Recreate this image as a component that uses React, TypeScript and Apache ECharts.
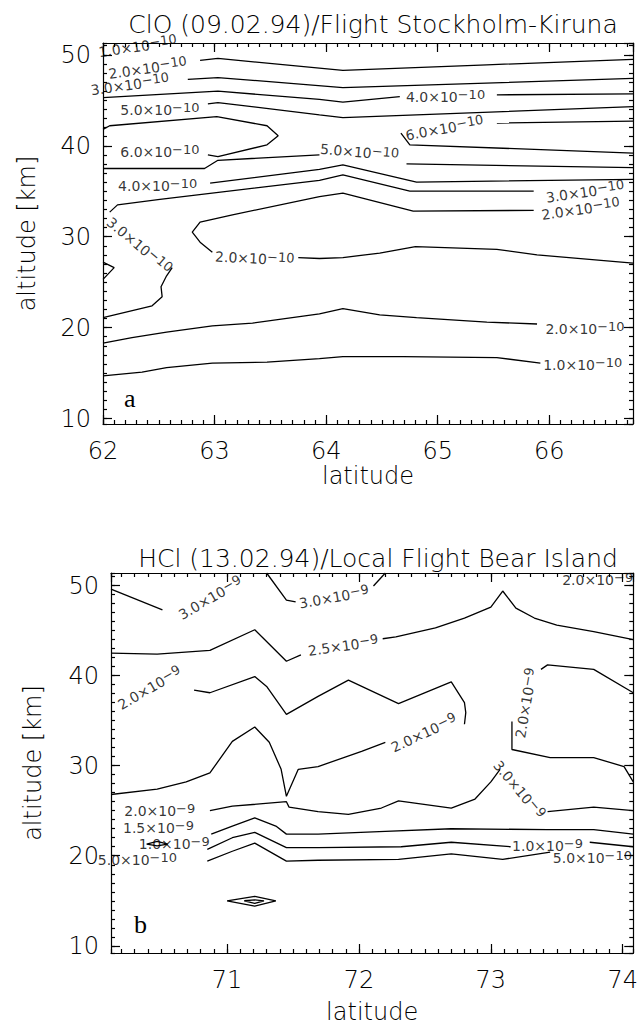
import React, { useEffect, useRef } from 'react';
import * as echarts from 'echarts';

type Pt = [number, number] | null;
type Lab = { lat: number; alt: number; mant: string; exp: string; rot: number };

// ---------- axis ranges ----------
const cloLatRange = [62, 66.75];
const cloAltRange = [9.4, 51.3];
const hclLatRange = [70.12, 74.08];
const hclAltRange = [9.2, 51.4];

const cloTitle = 'ClO (09.02.94)/Flight Stockholm-Kiruna';
const hclTitle = 'HCl (13.02.94)/Local Flight Bear Island';

// ---------- ClO contours (lat, alt) ----------
const clo2Upper: Pt[] = [[62.87, 49.4], [63.03, 49.6], [64.15, 48.3], [65.44, 48.9], [66.75, 49.5]];
const clo3Upper: Pt[] = [[62.76, 47.3], [63.03, 47.5], [64.15, 46.4], [66.75, 47.4]];
const clo4Upper: Pt[] = [[62.0, 45.3], [63.03, 46.0], [63.94, 45.1], [64.15, 44.8], [64.66, 45.4], null, [65.53, 45.6], [66.75, 45.7]];
const clo5Upper: Pt[] = [[62.94, 44.6], [63.03, 44.75], [63.94, 43.4], [64.15, 43.1], [66.75, 44.3]];
const clo6Left: Pt[] = [[62.0, 41.8], [62.06, 42.2], [63.02, 43.2], [63.47, 42.2], [63.57, 41.1], [63.47, 40.1], [63.03, 38.8], [62.94, 39.0]];
const clo6Right: Pt[] = [[66.75, 42.7], [65.53, 42.5], null, [64.67, 41.4], [64.75, 40.1], [66.75, 39.2]];
const clo5Lower: Pt[] = [[62.0, 37.5], [62.91, 37.5], [63.03, 38.4], [63.94, 39.0], null, [64.72, 38.0], [66.75, 37.6]];
const clo4Lower: Pt[] = [[62.96, 35.9], [63.94, 37.4], [64.15, 37.9], [64.81, 36.0], [66.75, 36.3]];
const clo3Lower: Pt[] = [[65.86, 35.0], [64.75, 35.0], [64.15, 36.8], [63.94, 36.2], [62.51, 34.1], [62.13, 33.5], [62.06, 32.7], null,
  [62.62, 26.6], [62.57, 25.7], [62.52, 24.5], [62.53, 23.4], [62.44, 22.4], [62.0, 21.1]];
const clo2Mid: Pt[] = [[65.86, 32.9], [64.78, 32.8], [64.15, 34.8], [63.94, 34.4], [63.16, 32.4], [62.87, 31.6], [62.8, 30.5], [62.87, 29.4], [62.98, 28.3], null,
  [63.75, 27.7], [63.94, 27.6], [64.15, 27.7], [64.48, 28.2], [64.8, 28.9], [65.53, 28.6], [65.89, 28.0], [66.75, 27.1]];
const clo2Lower: Pt[] = [[62.0, 18.3], [62.26, 18.9], [62.57, 19.5], [62.98, 20.2], [63.34, 20.5], [63.94, 21.5], [64.15, 22.1], [64.48, 21.4], [64.81, 21.1], [65.44, 20.6], [65.89, 20.4]];
const clo1Lower: Pt[] = [[62.0, 14.7], [62.35, 15.1], [62.57, 15.6], [62.98, 16.1], [63.47, 16.2], [63.94, 16.6], [64.15, 16.8], [64.69, 16.8], [65.53, 16.7], [65.92, 16.1]];
const cloTriangle: Pt[] = [[62.0, 27.2], [62.1, 26.6], [62.0, 25.3]];

const cloLabels: Lab[] = [
  { lat: 62.31, alt: 51.0, mant: '1.0', exp: '−10', rot: 8 },
  { lat: 62.4, alt: 48.6, mant: '2.0', exp: '−10', rot: 8 },
  { lat: 62.24, alt: 46.8, mant: '3.0', exp: '−10', rot: 8 },
  { lat: 65.07, alt: 45.5, mant: '4.0', exp: '−10', rot: 0 },
  { lat: 62.51, alt: 44.0, mant: '5.0', exp: '−10', rot: 0 },
  { lat: 62.51, alt: 39.4, mant: '6.0', exp: '−10', rot: 0 },
  { lat: 65.06, alt: 42.0, mant: '6.0', exp: '−10', rot: 10 },
  { lat: 64.3, alt: 39.4, mant: '5.0', exp: '−10', rot: -5 },
  { lat: 62.49, alt: 35.7, mant: '4.0', exp: '−10', rot: 0 },
  { lat: 66.32, alt: 35.0, mant: '3.0', exp: '−10', rot: 8 },
  { lat: 66.28, alt: 33.1, mant: '2.0', exp: '−10', rot: 8 },
  { lat: 62.33, alt: 29.1, mant: '3.0', exp: '−10', rot: -40 },
  { lat: 63.36, alt: 27.7, mant: '2.0', exp: '−10', rot: -3 },
  { lat: 66.32, alt: 20.0, mant: '2.0', exp: '−10', rot: 0 },
  { lat: 66.3, alt: 16.0, mant: '1.0', exp: '−10', rot: 0 },
];

// ---------- HCl contours (lat, alt) ----------
const hcl3A: Pt[] = [[70.12, 49.6], [70.51, 47.3]];
const hcl3B: Pt[] = [[71.3, 51.4], [71.45, 48.4], [71.52, 48.2], null, [72.11, 49.95], [72.2, 51.4]];
const hcl25: Pt[] = [[70.12, 42.5], [70.47, 42.4], [70.87, 42.8], [71.21, 45.1], [71.45, 41.6], [71.56, 42.3], null,
  [72.18, 44.1], [72.28, 44.3], [72.58, 45.3], [72.8, 46.4], [73.0, 47.6], [73.09, 49.4], [73.19, 47.5], [73.33, 46.4], [73.5, 45.6], [73.78, 44.9], [74.08, 44.0]];
const hcl2Loop: Pt[] = [[70.75, 38.4], [70.87, 38.1], [71.21, 39.9], [71.3, 38.8], [71.45, 35.7], [71.69, 37.7], [71.92, 39.5], [72.3, 36.9], [72.7, 39.3], [72.8, 37.0], [72.81, 35.9], [72.8, 34.6], null,
  [72.2, 32.6], [72.02, 31.6], [71.69, 29.9], [71.54, 29.6], [71.45, 26.6], [71.41, 29.6], [71.32, 32.6], [71.21, 34.3], [71.04, 32.7], [70.87, 29.2], [70.69, 28.2], [70.47, 27.4], [70.12, 26.8]];
const hcl2Right: Pt[] = [[74.08, 38.1], [73.78, 40.7], [73.43, 41.2], [73.38, 40.7], null,
  [73.16, 34.9], [73.16, 31.8], [73.45, 30.9], [73.78, 30.9], [74.01, 29.9], [74.08, 28.2]];
const hcl3Mid: Pt[] = [[70.87, 25.0], [71.04, 25.5], [71.45, 26.0], [71.47, 25.4], [71.69, 24.9], [71.92, 24.6], [72.17, 25.3], [72.3, 26.1], [72.7, 25.3], [72.88, 26.3], [73.0, 28.2], [73.07, 29.6], null,
  [73.43, 24.9], [73.78, 25.4], [74.08, 25.0]];
const hcl15: Pt[] = [[70.88, 22.4], [71.04, 23.3], [71.21, 24.2], [71.37, 23.3], [71.45, 22.4], [71.69, 22.4], [72.2, 22.7], [72.7, 23.0], [73.43, 22.9], [73.78, 22.9], [74.08, 22.4]];
const hcl10: Pt[] = [[70.85, 20.7], [71.04, 22.0], [71.21, 22.6], [71.45, 20.9], [71.69, 20.9], [72.32, 21.0], [72.7, 21.5], [73.15, 21.0], null, [73.75, 21.5], [74.08, 21.0]];
const hcl05: Pt[] = [[70.85, 19.4], [71.04, 20.5], [71.21, 21.4], [71.45, 19.4], [71.69, 19.5], [72.3, 19.6], [72.7, 20.2], [73.09, 19.6], [73.45, 20.4]];
const hclSmallDiamond: Pt[] = [[70.39, 21.3], [70.47, 21.6], [70.55, 21.3], [70.47, 21.1], [70.39, 21.3]];
const hclDiamondOuter: Pt[] = [[71.0, 15.0], [71.21, 15.5], [71.37, 15.0], [71.21, 14.4], [71.0, 15.0]];
const hclDiamondInner: Pt[] = [[71.13, 15.0], [71.21, 15.1], [71.28, 15.0], [71.21, 14.7], [71.13, 15.0]];

const hclLabels: Lab[] = [
  { lat: 70.87, alt: 48.7, mant: '3.0', exp: '−9', rot: 30 },
  { lat: 71.81, alt: 48.8, mant: '3.0', exp: '−9', rot: 10 },
  { lat: 71.88, alt: 43.4, mant: '2.5', exp: '−9', rot: 8 },
  { lat: 70.41, alt: 38.7, mant: '2.0', exp: '−9', rot: 30 },
  { lat: 72.49, alt: 33.7, mant: '2.0', exp: '−9', rot: 25 },
  { lat: 73.26, alt: 37.0, mant: '2.0', exp: '−9', rot: 80 },
  { lat: 70.49, alt: 25.1, mant: '2.0', exp: '−9', rot: 0 },
  { lat: 73.22, alt: 27.4, mant: '3.0', exp: '−9', rot: -50 },
  { lat: 70.48, alt: 23.2, mant: '1.5', exp: '−9', rot: 0 },
  { lat: 70.6, alt: 21.4, mant: '1.0', exp: '−9', rot: 0 },
  { lat: 73.43, alt: 21.2, mant: '1.0', exp: '−9', rot: 0 },
  { lat: 70.32, alt: 19.6, mant: '5.0', exp: '−10', rot: 0 },
  { lat: 73.77, alt: 19.9, mant: '5.0', exp: '−10', rot: 0 },
  { lat: 73.81, alt: 50.7, mant: '2.0', exp: '−9', rot: 0 },
];

const cloContours = [clo2Upper, clo3Upper, clo4Upper, clo5Upper, clo6Left, clo6Right, clo5Lower, clo4Lower, clo3Lower, clo2Mid, clo2Lower, clo1Lower, cloTriangle];
const hclContours = [hcl3A, hcl3B, hcl25, hcl2Loop, hcl2Right, hcl3Mid, hcl15, hcl10, hcl05, hclSmallDiamond, hclDiamondOuter, hclDiamondInner];

const AXIS_FONT = 'DejaVu Sans';
const LABEL_FONT = 'DejaVu Sans';

function segments(pts: Pt[]): [number, number][][] {
  const out: [number, number][][] = [];
  let cur: [number, number][] = [];
  for (const p of pts) {
    if (p === null) {
      if (cur.length) out.push(cur);
      cur = [];
    } else cur.push(p);
  }
  if (cur.length) out.push(cur);
  return out;
}

function lineSeries(contours: Pt[][], axisIdx: number) {
  const s: any[] = [];
  contours.forEach((c) => {
    segments(c).forEach((seg) => {
      s.push({
        type: 'line',
        xAxisIndex: axisIdx,
        yAxisIndex: axisIdx,
        data: seg,
        showSymbol: false,
        symbol: 'none',
        silent: true,
        lineStyle: { color: '#000', width: 1.3 },
        z: 3,
      });
    });
  });
  return s;
}

function labelSeries(labels: Lab[], axisIdx: number) {
  return {
    type: 'scatter',
    xAxisIndex: axisIdx,
    yAxisIndex: axisIdx,
    symbolSize: 0,
    silent: true,
    clip: false,
    z: 5,
    data: labels.map((l) => ({
      value: [l.lat, l.alt],
      label: {
        show: true,
        position: 'inside',
        rotate: l.rot,
        formatter: `{m|${l.mant}×10}{s|${l.exp}}`,
        rich: {
          m: { fontSize: 14, fontFamily: LABEL_FONT, color: '#000', lineHeight: 16, verticalAlign: 'bottom' },
          s: { fontSize: 13, fontFamily: LABEL_FONT, color: '#000', lineHeight: 6, verticalAlign: 'top' },
        },
      },
    })),
  };
}

function axesFor(grid: number, latR: number[], altR: number[], showMinX: boolean, nameGapX: number, nameGapY: number) {
  const xs: any[] = [];
  const ys: any[] = [];
  const lineStyle = { color: '#000', width: 1.2 };
  const common = { type: 'value', gridIndex: grid, splitLine: { show: false }, axisPointer: { show: false } };
  xs.push({
    ...common, min: latR[0], max: latR[1], position: 'bottom', splitNumber: 5,
    axisLine: { show: true, onZero: false, lineStyle },
    axisTick: { show: true, inside: true, length: 9, lineStyle },
    axisLabel: { show: true, margin: 15, fontSize: 24, fontFamily: AXIS_FONT, fontWeight: 200, color: '#000', showMinLabel: showMinX, showMaxLabel: false },
    name: 'latitude', nameLocation: 'middle', nameGap: nameGapX,
    nameTextStyle: { fontSize: 24, fontFamily: AXIS_FONT, fontWeight: 200, color: '#000' },
  });
  xs.push({
    ...common, min: latR[0], max: latR[1], position: 'bottom', splitNumber: 40,
    axisLine: { show: false }, axisLabel: { show: false },
    axisTick: { show: true, inside: true, length: 4, lineStyle },
  });
  xs.push({
    ...common, min: latR[0], max: latR[1], position: 'top', splitNumber: 5,
    axisLine: { show: true, onZero: false, lineStyle },
    axisTick: { show: true, inside: true, length: 9, lineStyle },
    axisLabel: { show: false },
  });
  xs.push({
    ...common, min: latR[0], max: latR[1], position: 'top', splitNumber: 40,
    axisLine: { show: false }, axisLabel: { show: false },
    axisTick: { show: true, inside: true, length: 4, lineStyle },
  });
  ys.push({
    ...common, min: altR[0], max: altR[1], position: 'left', splitNumber: 4,
    axisLine: { show: true, onZero: false, lineStyle },
    axisTick: { show: true, inside: true, length: 9, lineStyle },
    axisLabel: { show: true, margin: 12, fontSize: 24, fontFamily: AXIS_FONT, fontWeight: 200, color: '#000', showMinLabel: false, showMaxLabel: false },
    name: 'altitude [km]', nameLocation: 'middle', nameGap: nameGapY, nameRotate: 90,
    nameTextStyle: { fontSize: 24, fontFamily: AXIS_FONT, fontWeight: 200, color: '#000' },
  });
  ys.push({
    ...common, min: altR[0], max: altR[1], position: 'left', splitNumber: 40,
    axisLine: { show: false }, axisLabel: { show: false },
    axisTick: { show: true, inside: true, length: 4, lineStyle },
  });
  ys.push({
    ...common, min: altR[0], max: altR[1], position: 'right', splitNumber: 4,
    axisLine: { show: true, onZero: false, lineStyle },
    axisTick: { show: true, inside: true, length: 9, lineStyle },
    axisLabel: { show: false },
  });
  ys.push({
    ...common, min: altR[0], max: altR[1], position: 'right', splitNumber: 40,
    axisLine: { show: false }, axisLabel: { show: false },
    axisTick: { show: true, inside: true, length: 4, lineStyle },
  });
  return { xs, ys };
}

export default function App() {
  const ref = useRef<HTMLDivElement>(null);
  useEffect(() => {
    document.body.style.margin = '0';
    if (!ref.current) return;
    const chart = echarts.init(ref.current, undefined, { renderer: 'svg' });
    const a = axesFor(0, cloLatRange, cloAltRange, true, 33, 64);
    const b = axesFor(1, hclLatRange, hclAltRange, false, 47, 66);
    const option: any = {
      animation: false,
      backgroundColor: '#fff',
      title: [
        { text: cloTitle, left: 368, top: 7, textAlign: 'center', textStyle: { fontSize: 25, fontWeight: 200, fontFamily: AXIS_FONT, color: '#000' } },
        { text: hclTitle, left: 373, top: 541, textAlign: 'center', textStyle: { fontSize: 25, fontWeight: 200, fontFamily: AXIS_FONT, color: '#000' } },
      ],
      grid: [
        { left: 103, top: 43, width: 530, height: 381, containLabel: false },
        { left: 111, top: 573, width: 525, height: 381, containLabel: false },
      ],
      xAxis: [...a.xs, ...b.xs],
      yAxis: [...a.ys, ...b.ys],
      series: [
        ...lineSeries(cloContours, 0),
        labelSeries(cloLabels, 0),
        ...lineSeries(hclContours, 4),
        labelSeries(hclLabels, 4),
      ],
      graphic: [
        { type: 'text', left: 124, top: 385, style: { text: 'a', font: '26px "Liberation Serif"', fill: '#000' } },
        { type: 'text', left: 134, top: 911, style: { text: 'b', font: '26px "Liberation Serif"', fill: '#000' } },
      ],
    };
    chart.setOption(option);
    return () => chart.dispose();
  }, []);
  return <div ref={ref} style={{ width: 641, height: 1025, position: 'absolute', left: 0, top: 0 }} />;
}
